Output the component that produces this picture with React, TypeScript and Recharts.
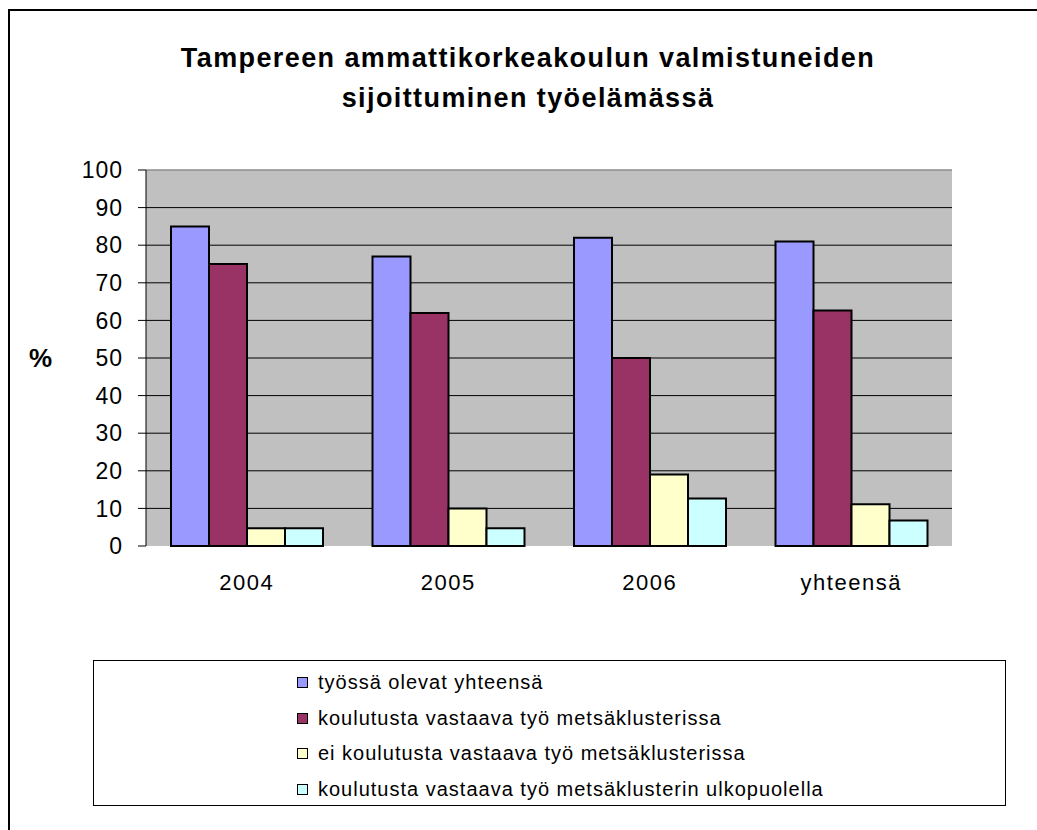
import React from 'react';
import {
  BarChart,
  Bar,
  XAxis,
  YAxis,
  CartesianGrid,
  ReferenceLine,
} from 'recharts';

// categories and series
const years = ['2004', '2005', '2006', 'yhteensä'];
const tyossa = [85, 77, 82, 81];
const vastaavaMetsa = [75, 62, 50, 62.6];
const eiVastaava = [4.7, 10, 19, 11.1];
const ulkopuolella = [4.7, 4.7, 12.6, 6.8];
const yTicks = [0, 10, 20, 30, 40, 50, 60, 70, 80, 90, 100];
const gridValues = [10, 20, 30, 40, 50, 60, 70, 80, 90];
const edgeTicks = [0, 1, 2, 3, 4];

const series = [
  { key: 'tyossa', name: 'työssä olevat yhteensä', color: '#9999FF' },
  { key: 'vastaavaMetsa', name: 'koulutusta vastaava työ metsäklusterissa', color: '#993366' },
  { key: 'eiVastaava', name: 'ei koulutusta vastaava työ metsäklusterissa', color: '#FFFFCC' },
  { key: 'ulkopuolella', name: 'koulutusta vastaava työ metsäklusterin ulkopuolella', color: '#CCFFFF' },
];

const data = years.map((year, i) => ({
  year,
  tyossa: tyossa[i],
  vastaavaMetsa: vastaavaMetsa[i],
  eiVastaava: eiVastaava[i],
  ulkopuolella: ulkopuolella[i],
}));

const font = '"Liberation Sans", Arial, sans-serif';

export default function App() {
  return (
    <div
      style={{
        position: 'absolute',
        left: 0,
        top: 0,
        width: 1037,
        height: 830,
        overflow: 'hidden',
        background: '#fff',
        fontFamily: font,
      }}
    >
      {/* outer chart frame, runs off the right and bottom edges */}
      <div
        style={{
          position: 'absolute',
          left: 8,
          top: 9,
          width: 1060,
          height: 860,
          border: '2px solid #000',
        }}
      />

      {/* Title */}
      <div
        style={{
          position: 'absolute',
          left: 0,
          top: 38,
          width: 1056,
          textAlign: 'center',
          fontWeight: 'bold',
          fontSize: 27,
          letterSpacing: 1.4,
          lineHeight: '40px',
          color: '#000',
        }}
      >
        Tampereen ammattikorkeakoulun valmistuneiden
        <br />
        sijoittuminen työelämässä
      </div>

      <div style={{ position: 'absolute', left: 0, top: 0 }}>
        <BarChart
          width={1037}
          height={830}
          data={data}
          margin={{ top: 170, right: 85, left: 86, bottom: 244 }}
          barGap={0}
          barSize={38}
        >
          <CartesianGrid
            vertical={false}
            horizontalValues={gridValues}
            stroke="#000"
            fill="#C0C0C0"
            xAxisId="cat"
          />
          <XAxis
            xAxisId="edges"
            type="number"
            domain={[0, 4]}
            ticks={edgeTicks}
            allowDataOverflow
            tick={false}
            tickSize={8}
            height={0}
            axisLine={{ stroke: '#000' }}
            tickLine={{ stroke: '#000' }}
          />
          <XAxis
            xAxisId="cat"
            dataKey="year"
            axisLine={false}
            tickLine={false}
            tickSize={0}
            tickMargin={28}
            height={40}
            tick={{ fontSize: 22, fill: '#000', fontFamily: font, letterSpacing: 1.5 }}
          />
          <YAxis
            domain={[0, 100]}
            ticks={yTicks}
            width={60}
            tickSize={8}
            tickMargin={15}
            interval={0}
            axisLine={{ stroke: '#000' }}
            tickLine={{ stroke: '#000' }}
            tick={{ fontSize: 23, fill: '#000', fontFamily: font, letterSpacing: 1 }}
            label={{
              value: '%',
              position: 'left',
              offset: 34,
              style: { fontSize: 26, fontWeight: 'bold', fill: '#000', fontFamily: font },
            }}
          />
          <ReferenceLine y={100} xAxisId="cat" stroke="#8C8C8C" strokeWidth={1.5} />
          <ReferenceLine x={4} xAxisId="edges" stroke="#8C8C8C" strokeWidth={1.5} />
          {series.map((s) => (
            <Bar
              key={s.key}
              xAxisId="cat"
              dataKey={s.key}
              name={s.name}
              fill={s.color}
              stroke="#000"
              strokeWidth={2}
              isAnimationActive={false}
            />
          ))}
        </BarChart>
      </div>

      {/* Legend */}
      <div
        style={{
          position: 'absolute',
          left: 93,
          top: 660,
          width: 911,
          height: 144,
          border: '1px solid #000',
          boxSizing: 'content-box',
        }}
      >
        <div style={{ position: 'absolute', left: 203, top: 4 }}>
          {series.map((s) => (
            <div
              key={s.key}
              style={{
                display: 'flex',
                alignItems: 'center',
                height: 35.5,
                fontSize: 20,
                letterSpacing: 1,
                color: '#000',
                whiteSpace: 'nowrap',
              }}
            >
              <span
                style={{
                  display: 'inline-block',
                  width: 9,
                  height: 9,
                  background: s.color,
                  border: '1.5px solid #000',
                  marginRight: 10,
                }}
              />
              {s.name}
            </div>
          ))}
        </div>
      </div>
    </div>
  );
}
